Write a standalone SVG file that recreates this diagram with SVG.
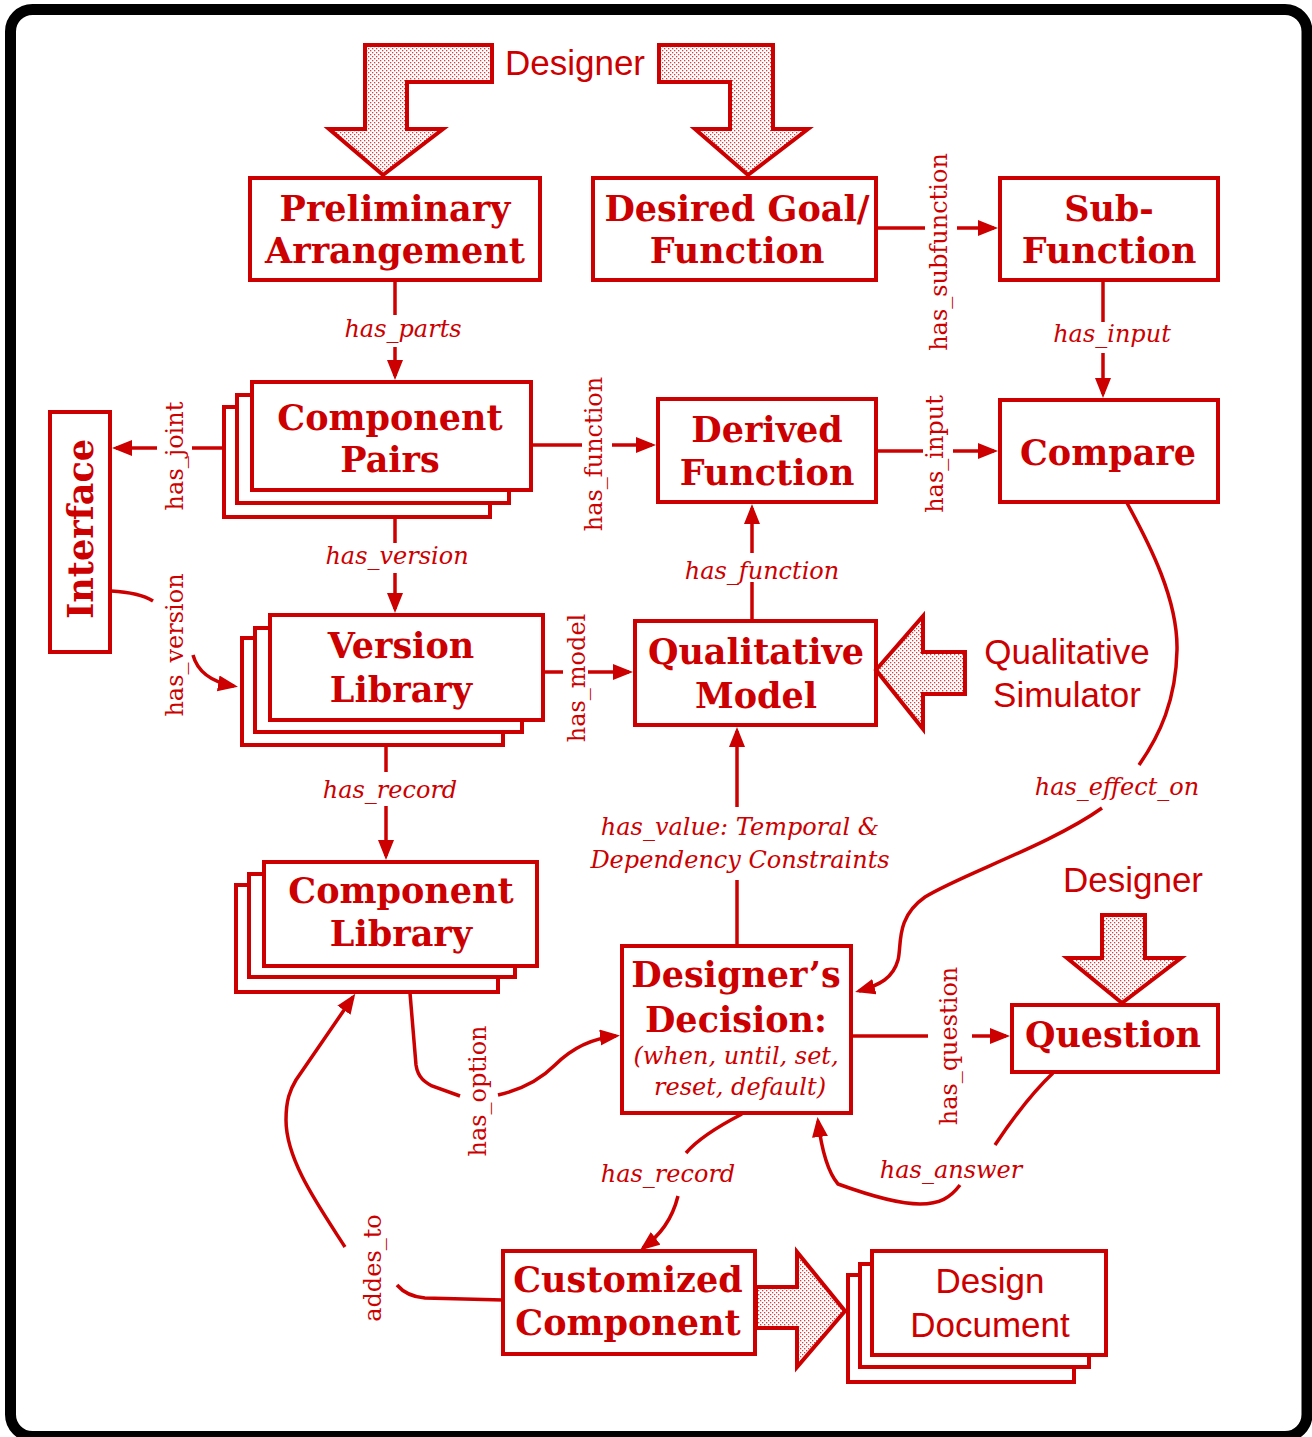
<svg xmlns="http://www.w3.org/2000/svg" width="1312" height="1437" viewBox="0 0 1312 1437">
<style>
.box{fill:#fff;stroke:#cc0000;stroke-width:4}
.conn{fill:none;stroke:#cc0000;stroke-width:3.5}
.big{fill:url(#dots);stroke:#cc0000;stroke-width:4;stroke-linejoin:miter}
.nt{font-family:"DejaVu Serif",serif;font-weight:bold;font-size:35px;fill:#cc0000;text-anchor:middle}
.lbl{font-family:"DejaVu Serif",serif;font-style:italic;font-size:24px;fill:#cc0000;text-anchor:middle}
.rl{font-family:"DejaVu Serif",serif;font-size:24px;fill:#cc0000;text-anchor:middle}
.sans{font-family:"Liberation Sans",Arial,sans-serif;font-size:35px;fill:#cc0000;text-anchor:middle}
</style>
<defs>
<pattern id="dots" width="4" height="4" patternUnits="userSpaceOnUse">
<rect width="4" height="4" fill="#fff"/>
<rect x="0" y="0" width="1.3" height="1.3" fill="#d84040"/>
<rect x="2" y="2" width="1.3" height="1.3" fill="#d84040"/>
</pattern>
<marker id="ah" markerUnits="userSpaceOnUse" markerWidth="22" markerHeight="18" refX="16" refY="8" orient="auto">
<path d="M0,0 L20,8 L0,16 z" fill="#cc0000"/>
</marker>
</defs>
<rect x="0" y="0" width="1312" height="1437" fill="#fff"/>
<rect x="10.5" y="9.5" width="1296.5" height="1427" rx="22" fill="none" stroke="#000" stroke-width="11"/>

<g id="connectors">
<path class="conn" d="M395,280 L395,315"/>
<path class="conn" d="M395,347 L395,376" marker-end="url(#ah)"/>
<path class="conn" d="M395,517 L395,543"/>
<path class="conn" d="M395,573 L395,609" marker-end="url(#ah)"/>
<path class="conn" d="M386,745 L386,772"/>
<path class="conn" d="M386,806 L386,856" marker-end="url(#ah)"/>
<path class="conn" d="M223,448 L192,448"/>
<path class="conn" d="M157,448 L116,448" marker-end="url(#ah)"/>
<path class="conn" d="M111,591 C130,592 145,596 153,601"/>
<path class="conn" d="M193,655 C197,670 210,682 234,686" marker-end="url(#ah)"/>
<path class="conn" d="M531,445 L582,445"/>
<path class="conn" d="M612,445 L652,445" marker-end="url(#ah)"/>
<path class="conn" d="M876,451 L923,451"/>
<path class="conn" d="M953,451 L994,451" marker-end="url(#ah)"/>
<path class="conn" d="M876,228 L925,228"/>
<path class="conn" d="M957,228 L994,228" marker-end="url(#ah)"/>
<path class="conn" d="M1103,280 L1103,322"/>
<path class="conn" d="M1103,353 L1103,394" marker-end="url(#ah)"/>
<path class="conn" d="M752,621 L752,582"/>
<path class="conn" d="M752,553 L752,508" marker-end="url(#ah)"/>
<path class="conn" d="M543,672 L563,672"/>
<path class="conn" d="M588,672 L629,672" marker-end="url(#ah)"/>
<path class="conn" d="M737,944 L737,880"/>
<path class="conn" d="M737,807 L737,731" marker-end="url(#ah)"/>
<path class="conn" d="M1127,503 C1150,545 1178,600 1177,650 C1176,700 1160,735 1139,765"/>
<path class="conn" d="M1102,808 C1050,845 960,875 925,897 C895,918 902,945 898,960 C893,978 880,985 859,991" marker-end="url(#ah)"/>
<path class="conn" d="M851,1036 L928,1036"/>
<path class="conn" d="M972,1036 L1006,1036" marker-end="url(#ah)"/>
<path class="conn" d="M1053,1073 C1035,1090 1015,1115 995,1145"/>
<path class="conn" d="M960,1185 C950,1198 940,1204 920,1204 C895,1204 860,1192 838,1184 C826,1170 821,1145 818,1121" marker-end="url(#ah)"/>
<path class="conn" d="M742,1114 C715,1128 697,1140 686,1153"/>
<path class="conn" d="M678,1196 C672,1220 660,1235 643,1248" marker-end="url(#ah)"/>
<path class="conn" d="M410,993 L416,1065 C418,1078 425,1082 432,1086 L460,1096"/>
<path class="conn" d="M498,1095 C520,1090 540,1080 555,1065 C575,1045 595,1038 616,1036" marker-end="url(#ah)"/>
<path class="conn" d="M503,1300 L425,1298 C412,1297 403,1292 397,1285"/>
<path class="conn" d="M345,1247 C318,1205 286,1160 286,1120 C286,1100 290,1090 296,1080 L353,997" marker-end="url(#ah)"/>
</g>

<g id="labels">
<text class="lbl" x="403" y="337">has_parts</text>
<text class="lbl" x="397" y="564">has_version</text>
<text class="lbl" x="390" y="798">has_record</text>
<text class="lbl" x="1112" y="342">has_input</text>
<text class="lbl" x="762" y="579">has_function</text>
<text class="lbl" x="740" y="835">has_value: Temporal &amp;</text>
<text class="lbl" x="740" y="868">Dependency Constraints</text>
<text class="lbl" x="1117" y="795">has_effect_on</text>
<text class="lbl" x="951" y="1178">has_answer</text>
<text class="lbl" x="668" y="1182">has_record</text>
<text class="rl" transform="translate(183,456) rotate(-90)">has_joint</text>
<text class="rl" transform="translate(183,645) rotate(-90)">has_version</text>
<text class="rl" transform="translate(602,454) rotate(-90)">has_function</text>
<text class="rl" transform="translate(585,678) rotate(-90)">has_model</text>
<text class="rl" transform="translate(947,252) rotate(-90)">has_subfunction</text>
<text class="rl" transform="translate(943,454) rotate(-90)">has_input</text>
<text class="rl" transform="translate(957,1046) rotate(-90)">has_question</text>
<text class="rl" transform="translate(486,1091) rotate(-90)">has_option</text>
<text class="rl" transform="translate(381,1268) rotate(-90)">addes_to</text>
</g>

<g id="designer-top">
<polygon class="big" points="365,45 492,45 492,82 407,82 407,129 443,129 383,175 329,129 365,129"/>
<polygon class="big" points="659,45 773,45 773,129 808,129 748,175 695,129 730,129 730,82 659,82"/>
<text class="sans" x="575" y="75">Designer</text>
</g>

<g id="preliminary-arrangement">
<rect class="box" x="250" y="178" width="290" height="102"/>
<text class="nt" x="395" y="221">Preliminary</text>
<text class="nt" x="395" y="263">Arrangement</text>
</g>

<g id="desired-goal">
<rect class="box" x="593" y="178" width="283" height="102"/>
<text class="nt" x="737" y="221">Desired Goal/</text>
<text class="nt" x="737" y="263">Function</text>
</g>

<g id="sub-function">
<rect class="box" x="1000" y="178" width="218" height="102"/>
<text class="nt" x="1109" y="221">Sub-</text>
<text class="nt" x="1109" y="263">Function</text>
</g>

<g id="compare">
<rect class="box" x="1000" y="400" width="218" height="102"/>
<text class="nt" x="1108" y="465">Compare</text>
</g>

<g id="derived-function">
<rect class="box" x="658" y="399" width="218" height="103"/>
<text class="nt" x="767" y="442">Derived</text>
<text class="nt" x="767" y="485">Function</text>
</g>

<g id="component-pairs">
<rect class="box" x="224" y="407" width="266" height="110"/>
<rect class="box" x="237" y="395" width="272" height="108"/>
<rect class="box" x="252" y="382" width="279" height="108"/>
<text class="nt" x="390" y="430">Component</text>
<text class="nt" x="390" y="472">Pairs</text>
</g>

<g id="interface">
<rect class="box" x="50" y="412" width="60" height="240"/>
<text class="nt" transform="translate(93,529) rotate(-90)">Interface</text>
</g>

<g id="version-library">
<rect class="box" x="242" y="638" width="261" height="107"/>
<rect class="box" x="255" y="628" width="267" height="104"/>
<rect class="box" x="270" y="615" width="273" height="105"/>
<text class="nt" x="401" y="658">Version</text>
<text class="nt" x="401" y="702">Library</text>
</g>

<g id="qualitative-model">
<rect class="box" x="635" y="621" width="241" height="104"/>
<text class="nt" x="756" y="664">Qualitative</text>
<text class="nt" x="756" y="708">Model</text>
</g>

<g id="qualitative-simulator">
<polygon class="big" points="876,670 923,616 923,652 965,652 965,694 923,694 923,729"/>
<text class="sans" x="1067" y="664">Qualitative</text>
<text class="sans" x="1067" y="707">Simulator</text>
</g>

<g id="component-library">
<rect class="box" x="236" y="885" width="262" height="107"/>
<rect class="box" x="249" y="874" width="266" height="103"/>
<rect class="box" x="264" y="862" width="273" height="104"/>
<text class="nt" x="401" y="903">Component</text>
<text class="nt" x="401" y="946">Library</text>
</g>

<g id="designers-decision">
<rect class="box" x="622" y="946" width="229" height="167"/>
<text class="nt" x="736" y="987">Designer’s</text>
<text class="nt" x="736" y="1032">Decision:</text>
<text class="lbl" x="736" y="1064">(when, until, set,</text>
<text class="lbl" x="740" y="1095">reset, default)</text>
</g>

<g id="question">
<rect class="box" x="1012" y="1005" width="206" height="67"/>
<text class="nt" x="1113" y="1047">Question</text>
</g>

<g id="designer-bottom">
<text class="sans" x="1133" y="892">Designer</text>
<polygon class="big" points="1102,915 1145,915 1145,958 1181,958 1122,1003 1067,958 1102,958"/>
</g>

<g id="customized-component">
<rect class="box" x="503" y="1251" width="252" height="103"/>
<text class="nt" x="628" y="1292">Customized</text>
<text class="nt" x="628" y="1335">Component</text>
</g>

<g id="output-arrow">
<polygon class="big" points="756,1287 797,1287 797,1252 845,1311 797,1367 797,1328 756,1328"/>
</g>

<g id="design-document">
<rect class="box" x="848" y="1275" width="226" height="107"/>
<rect class="box" x="860" y="1264" width="229" height="103"/>
<rect class="box" x="872" y="1251" width="234" height="104"/>
<text class="sans" x="990" y="1293">Design</text>
<text class="sans" x="990" y="1337">Document</text>
</g>
</svg>
